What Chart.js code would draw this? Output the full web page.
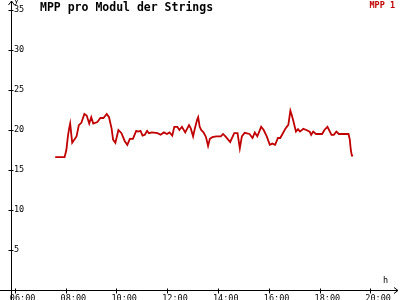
<!DOCTYPE html>
<html>
<head>
<meta charset="utf-8">
<script src="https://cdn.jsdelivr.net/npm/chart.js@4/dist/chart.umd.min.js"></script>
<style>
    html, body { margin: 0; padding: 0; background: #fff; }
    #wrap { position: relative; width: 400px; height: 300px; overflow: hidden; }
    .lbl { position: absolute; font-family: 'DejaVu Sans Mono', monospace; white-space: nowrap; line-height: 1; z-index: 2; }
    #title { left: 40px; top: 2px; font-size: 11.5px; font-weight: bold; color: #000; }
    #legend { right: 5px; top: 1px; font-size: 8.5px; font-weight: bold; color: #c00000; }
    #yunit { left: 14px; top: -3px; font-size: 8px; color: #000; }
    #xunit { left: 383px; top: 276px; font-size: 8.5px; color: #000; }
</style>
</head>
<body>
<div id="wrap">
    <canvas id="c" width="400" height="300"></canvas>
    <div class="lbl" id="title">MPP pro Modul der Strings</div>
    <div class="lbl" id="legend">MPP 1</div>
    <div class="lbl" id="yunit">y</div>
    <div class="lbl" id="xunit">h</div>
</div>
<script>
// time of day in hours
const hours = [
    7.59, 7.96, 8.03, 8.09, 8.14, 8.18, 8.26, 8.43, 8.52, 8.62, 8.74, 8.83, 8.93, 9.01, 9.09,
    9.25, 9.37, 9.49, 9.62, 9.71, 9.81, 9.87, 9.96, 10.08, 10.20, 10.33, 10.43, 10.53, 10.65,
    10.78, 10.86, 10.95, 11.03, 11.12, 11.21, 11.28, 11.40, 11.62, 11.74, 11.87, 11.99, 12.09,
    12.20, 12.28, 12.40, 12.48, 12.58, 12.71, 12.86, 12.93, 13.02, 13.09, 13.18, 13.22, 13.28,
    13.34, 13.43, 13.53, 13.61, 13.68, 13.78, 13.93, 14.11, 14.20, 14.32, 14.48, 14.64, 14.77,
    14.86, 14.94, 15.05, 15.24, 15.36, 15.45, 15.55, 15.70, 15.80, 15.92, 16.04, 16.14, 16.25,
    16.36, 16.45, 16.54, 16.66, 16.77, 16.85, 16.91, 16.97, 17.07, 17.15, 17.23, 17.36, 17.48,
    17.61, 17.67, 17.75, 17.86, 18.10, 18.19, 18.31, 18.47, 18.56, 18.66, 18.76, 19.14, 19.19,
    19.23, 19.27, 19.32
];
const mpp1 = [
    16.6, 16.6, 17.5, 19.2, 20.2, 20.8, 18.4, 19.2, 20.6, 20.9, 22.0, 21.8, 20.8, 21.6, 20.8,
    21.0, 21.5, 21.5, 22.0, 21.6, 20.2, 18.8, 18.4, 20.0, 19.6, 18.6, 18.15, 18.9, 18.9,
    19.9, 19.8, 19.9, 19.3, 19.4, 19.9, 19.6, 19.7, 19.6, 19.4, 19.7, 19.5, 19.7,
    19.3, 20.4, 20.4, 20.0, 20.4, 19.7, 20.6, 20.2, 19.2, 20.2, 21.3, 21.6, 20.4,
    20.0, 19.7, 19.1, 18.0, 18.9, 19.1, 19.2, 19.2, 19.5, 19.1, 18.5, 19.6, 19.6,
    17.7, 19.2, 19.65, 19.5, 19.0, 19.7, 19.2, 20.4, 20.0, 19.2, 18.15, 18.3, 18.15,
    19.0, 19.0, 19.5, 20.2, 20.65, 22.4, 21.8, 21.1, 19.8, 20.1, 19.8, 20.15, 20.0,
    19.8, 19.4, 19.8, 19.5, 19.5, 20.0, 20.4, 19.4, 19.4, 19.8, 19.5, 19.5, 18.8,
    17.5, 16.8, 16.8
];
const xTickHours = [6, 8, 10, 12, 14, 16, 18, 20];
const yTickValues = [0, 5, 10, 15, 20, 25, 30, 35];

const RED = '#c00000';
const FONT = "'DejaVu Sans Mono', monospace";

// axes with arrows and small cross ticks, like the original plot
const axesPlugin = {
    id: 'axes',
    afterDraw(chart) {
        const { ctx, chartArea } = chart;
        const xs = chart.scales.x, ys = chart.scales.y;
        const ox = chartArea.left + 0.5;
        const oy = Math.round(ys.getPixelForValue(0)) + 0.5;
        ctx.save();
        ctx.strokeStyle = '#000';
        ctx.lineWidth = 1;
        ctx.beginPath();
        ctx.moveTo(ox, 300); ctx.lineTo(ox, 1);
        ctx.moveTo(ox - 3, 5); ctx.lineTo(ox, 1); ctx.lineTo(ox + 3, 5);
        ctx.moveTo(0, oy); ctx.lineTo(398, oy);
        ctx.moveTo(394, oy - 3); ctx.lineTo(398, oy); ctx.lineTo(394, oy + 3);
        xs.ticks.forEach(t => {
            const px = Math.round(xs.getPixelForValue(t.value)) + 0.5;
            ctx.moveTo(px, oy - 2); ctx.lineTo(px, oy + 3);
        });
        ys.ticks.forEach(t => {
            if (t.value === 0) return;
            const py = Math.round(ys.getPixelForValue(t.value)) + 0.5;
            ctx.moveTo(ox - 3, py); ctx.lineTo(ox + 2, py);
        });
        ctx.stroke();
        ctx.restore();
    }
};

new Chart(document.getElementById('c'), {
    type: 'line',
    data: {
        datasets: [{
            label: 'MPP 1',
            data: hours.map((h, i) => ({ x: h, y: mpp1[i] })),
            borderColor: RED, borderWidth: 1.8,
            pointRadius: 0, tension: 0, fill: false
        }]
    },
    options: {
        responsive: false, animation: false, devicePixelRatio: 1,
        layout: { padding: { top: 10, right: 2, left: 0, bottom: 0 } },
        plugins: { legend: { display: false }, title: { display: false }, tooltip: { enabled: false } },
        scales: {
            x: {
                type: 'linear', min: 5.85, max: 20.34,
                afterFit: s => { s.height = 10; },
                afterBuildTicks: s => { s.ticks = xTickHours.map(v => ({ value: v })); },
                grid: { display: false, drawTicks: false },
                border: { display: false },
                ticks: {
                    autoSkip: false, maxRotation: 0, align: 'start', labelOffset: -5, padding: 4,
                    color: '#000', font: { family: FONT, size: 8.5 },
                    callback: v => String(v).padStart(2, '0') + ':00'
                }
            },
            y: {
                min: 0, max: 35,
                afterFit: s => { s.width = 11; },
                afterBuildTicks: s => { s.ticks = yTickValues.map(v => ({ value: v })); },
                grid: { display: false, drawTicks: false },
                border: { display: false },
                ticks: {
                    mirror: true, padding: 3, color: '#000', font: { family: FONT, size: 8.5 },
                    callback: v => v === 0 ? '' : String(v)
                }
            }
        }
    },
    plugins: [axesPlugin]
});
</script>
</body>
</html>
